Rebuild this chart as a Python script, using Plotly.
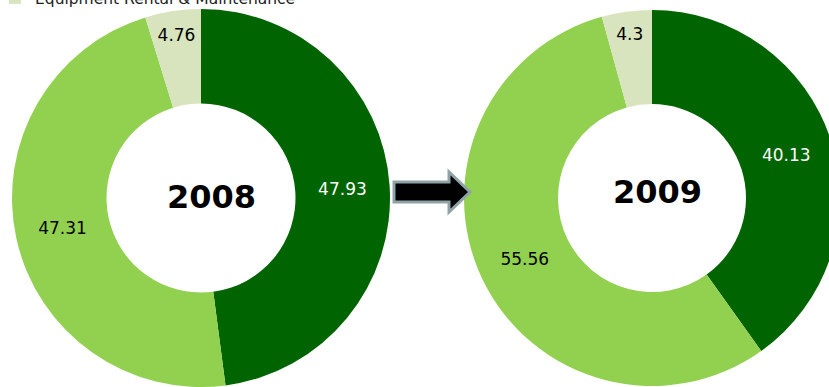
import plotly.graph_objects as go

W, H = 850, 387

categories = ["Equipment Sales", "Parts & Services", "Equipment Rental & Maintenance"]
values_2008 = [47.93, 47.31, 4.76]
values_2009 = [40.13, 55.56, 4.3]
years = ["2008", "2009"]
colors = ["#006400", "#92D050", "#D7E4BD"]
text_colors = ["white", "black", "black"]


def px(x):
    return x / W


def py(y):
    return 1 - y / H


fig = go.Figure()

pie_specs = [
    (values_2008, (201, 198, 189)),
    (values_2009, (652, 198, 188)),
]
for i, (vals, (cx, cy, r)) in enumerate(pie_specs):
    fig.add_trace(go.Pie(
        labels=categories,
        values=vals,
        hole=0.5,
        sort=False,
        direction="clockwise",
        rotation=0,
        marker=dict(colors=colors, line=dict(width=0)),
        textinfo="value",
        textposition="inside",
        insidetextorientation="horizontal",
        textfont=dict(family="DejaVu Sans, Verdana", size=17, color=text_colors),
        domain=dict(x=[px(cx - r), px(cx + r)], y=[py(cy + r), py(cy - r)]),
        showlegend=(i == 0),
        hoverinfo="label+value",
    ))

# center labels
for yr, (x, y) in zip(years, [(211, 197), (657, 192)]):
    fig.add_annotation(x=px(x), y=py(y), xref="paper", yref="paper", text="<b>%s</b>" % yr,
                       showarrow=False, font=dict(family="DejaVu Sans, Verdana", size=32, color="black"),
                       xanchor="center", yanchor="middle")

# block arrow between donuts
pts = [(394, 182), (449, 182), (449, 172), (470, 192), (449, 212), (449, 202), (394, 202)]
path = "M " + " L ".join("%.5f,%.5f" % (px(a), py(b)) for a, b in pts) + " Z"
fig.add_shape(type="path", path=path, xref="paper", yref="paper",
              fillcolor="black", line=dict(color="#8FA3A6", width=3), layer="above")

fig.update_layout(
    width=W, height=H,
    margin=dict(l=0, r=0, t=0, b=0, autoexpand=False),
    paper_bgcolor="white", plot_bgcolor="white",
    uniformtext=dict(minsize=17, mode="show"),
    legend=dict(x=px(-5), xanchor="left", y=py(15), yanchor="bottom",
                font=dict(family="DejaVu Sans, Verdana", size=15.5, color="#222"),
                bgcolor="rgba(0,0,0,0)", borderwidth=0),
)

fig.write_html("out.html", post_script="document.documentElement.style.overflow='hidden';document.body.style.overflow='hidden';document.body.style.margin='0';")
